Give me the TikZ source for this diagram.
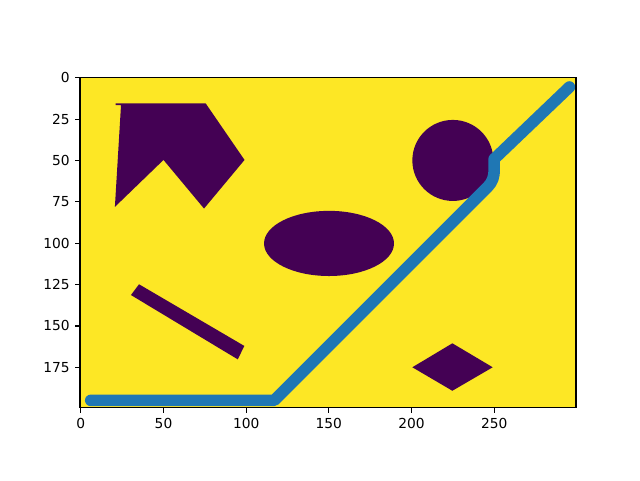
\documentclass[tikz,border=0pt]{standalone}
\usepackage{fontspec}
\setmainfont{DejaVu Sans}
\usepackage{xcolor}
\usepackage{tikz}
\definecolor{C0}{HTML}{1F77B4}
\definecolor{Cfree}{HTML}{FDE725}
\definecolor{Cobst}{HTML}{440154}

\begin{document}
\begin{tikzpicture}[font=\fontsize{9.8}{11.8}\selectfont,
    obst/.style={fill=Cobst},
    tick/.style={black, line width=0.79pt},
    ticklabel/.style={inner sep=0pt}]

    %% Canvas of 640 x 480 px
    \useasboundingbox (0,0) rectangle (16,12);

    %% Grid coordinates: 300 x 200 cells, row 0 on top
    \begin{scope}[shift={(2.0207,10.0518)}, x=0.041333cm, y=-0.041333cm]

    %% Free space
    \fill[Cfree] (-0.5,-0.5) rectangle (299.5,199.5);

    %% --- Obstacles ---
    %% Arrow-like polygon
    \fill[obst] (21,15.4) -- (75.5,15.4) -- (99,49.6) -- (74.5,79) -- (50,49.6)
        -- (20.6,78) -- (24.3,16.5) -- (21,16.5) -- cycle;
    %% Disc
    \fill[obst] (225,49.9) circle (24.5);
    %% Ellipse
    \fill[obst] (150.1,100.1) ellipse [x radius=39.3, y radius=19.7];
    %% Thin slanted bar
    \fill[obst] (35.2,124.8) -- (98.9,162.1) -- (94.9,170.2) -- (30.3,131.3) -- cycle;
    %% Diamond
    \fill[obst] (200.5,175) -- (224.7,160.5) -- (249.1,175) -- (224.7,189.2) -- cycle;

    %% --- Planned path ---
    \draw[C0, line width=0.29cm, line cap=round, line join=round]
        (6,195) -- (117,195) -- (246,66) .. controls (249,63) and (250,60) .. (250,55)
        -- (250,49) -- (295.5,5.5);

    %% Frame and ticks
    \draw[tick] (-0.5,-0.5) rectangle (299.5,199.5);
    \foreach \t in {0,50,...,250}{
        \draw[tick] (\t,199.5) -- ++(0,-3.5pt)
            node[ticklabel, anchor=north, yshift=-3.5pt] (xl\t) {\t};
    }
    \foreach \t in {0,25,...,175}{
        \draw[tick] (-0.5,\t) -- ++(-3.5pt,0)
            node[ticklabel, anchor=east, xshift=-3.5pt] (yl\t) {\t};
    }

    \end{scope}

\end{tikzpicture}
\end{document}
